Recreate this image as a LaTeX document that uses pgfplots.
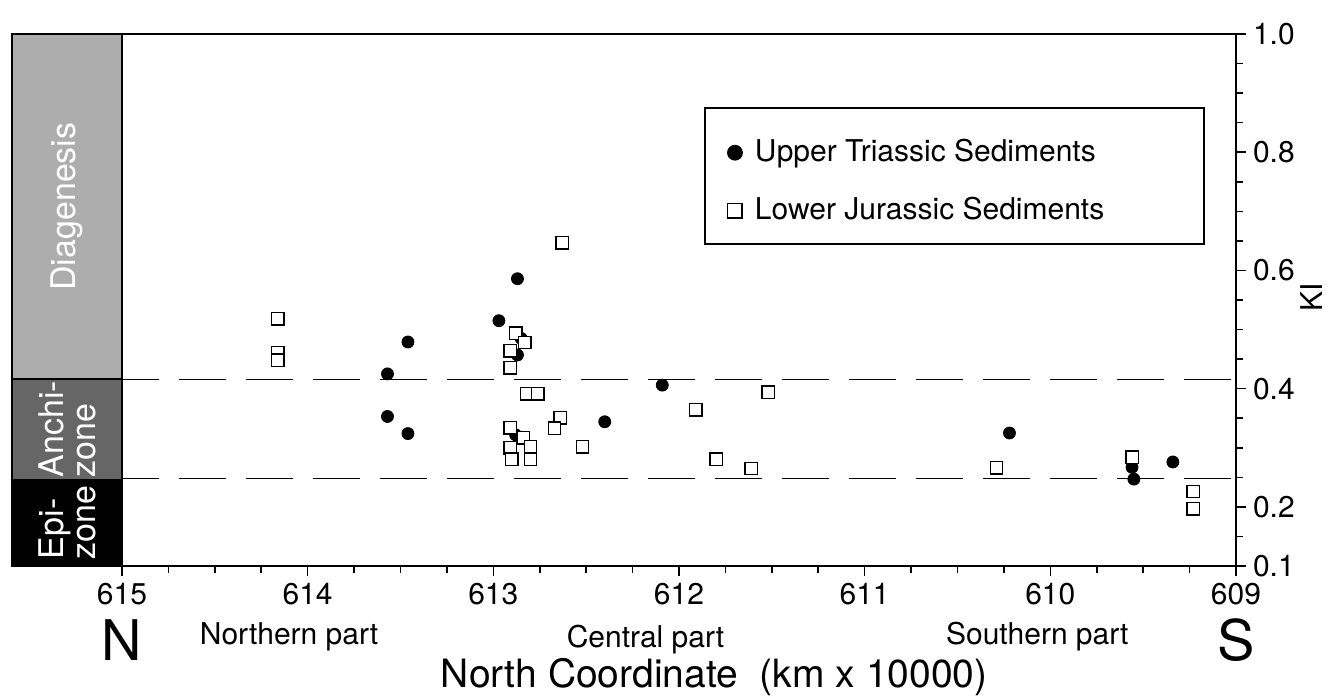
\documentclass[border=0pt]{standalone}
\usepackage{pgfplots}
\pgfplotsset{compat=1.18}
\usepackage{fontspec}
\setmainfont{TeX Gyre Heros}

\newcommand{\fs}[1]{\fontsize{#1}{1.1\dimexpr #1pt\relax}\selectfont}

% Kubler index, Upper Triassic
\pgfplotstableread{
x y
613.46 0.479
613.57 0.425
613.57 0.353
613.46 0.324
612.87 0.586
612.97 0.515
612.85 0.485
612.87 0.457
612.88 0.322
612.86 0.316
612.40 0.344
612.09 0.406
610.22 0.325
609.56 0.267
609.55 0.247
609.34 0.276
}\triassic
% Lower Jurassic
\pgfplotstableread{
x y
614.16 0.518
614.16 0.461
614.16 0.448
612.63 0.647
612.88 0.494
612.83 0.478
612.91 0.464
612.91 0.435
612.82 0.391
612.76 0.391
612.64 0.351
612.67 0.333
612.91 0.334
612.84 0.317
612.91 0.300
612.80 0.302
612.90 0.281
612.80 0.281
612.52 0.302
611.91 0.364
611.52 0.394
611.80 0.281
611.61 0.265
610.29 0.266
609.23 0.226
609.23 0.197
}\jurassic
\pgfplotstableread{
x y
609.56 0.284
}\jurassictop

\begin{document}
\begin{tikzpicture}
\begin{axis}[
  at={(0,0)}, anchor=south west,
  scale only axis, width=557pt, height=266pt,
  x dir=reverse,
  xmin=609, xmax=615, ymin=0.1, ymax=1.0,
  xtick={609,610,...,615}, minor x tick num=3,
  ytick={0.1,0.2,0.4,0.6,0.8,1.0},
  minor ytick={0.15,0.25,0.3,0.35,0.45,0.5,0.55,0.65,0.7,0.75,0.85,0.9,0.95},
  xtick pos=left, ytick pos=right, yticklabel pos=right,
  tick align=outside,
  major tick length=5pt, minor tick length=3.5pt,
  every tick/.style={black, line width=0.8pt},
  axis line style={line width=0.8pt},
  /pgf/number format/assume math mode=true,
  ticklabel style={font=\fs{15}},
  yticklabel style={/pgf/number format/.cd, fixed, fixed zerofill, precision=1},
  xticklabel style={/pgf/number format/.cd, 1000 sep={}},
  clip=false,
  legend style={at={(axis cs:611.866,0.8765)}, anchor=north west,
    draw=black, line width=1.1pt, inner xsep=6.5pt, inner ysep=10.4pt,
    row sep=11pt, column sep=1.5pt, font=\fs{15},
    nodes={inner sep=0pt}},
  legend cell align=left,
  legend image code/.code={
    \path[draw=none] (0pt,-4pt) rectangle (17pt,4pt);
    \draw[#1, line width=0.7pt, mark size=3.6pt] plot coordinates {(8.5pt,-2.9pt)};}
]
% zone boxes left of the axis
\fill[black!32] (axis cs:615.592,1.0) rectangle (axis cs:615,0.416);
\fill[black!60] (axis cs:615.592,0.416) rectangle (axis cs:615,0.248);
\fill[black] (axis cs:615.592,0.248) rectangle (axis cs:615,0.1);
\draw[line width=0.8pt] (axis cs:615.592,1.0) rectangle (axis cs:615,0.1);
\draw[line width=0.8pt] (axis cs:615.592,0.416) -- (axis cs:615,0.416);
\node[rotate=90, text=white, font=\fontsize{17}{16}\selectfont] at (axis cs:615.296,0.708) {Diagenesis};
\node[rotate=90, text=white, font=\fontsize{17}{16}\selectfont, align=left] at (axis cs:615.296,0.332) {Anchi-\\zone};
\node[rotate=90, text=white, font=\fontsize{17}{16}\selectfont, align=left] at (axis cs:615.296,0.174) {Epi-\\zone};

\addplot[black, line width=0.7pt, dash pattern=on 23.5pt off 10pt, dash phase=5pt, forget plot]
  coordinates {(615,0.416) (609,0.416)};
\addplot[black, line width=0.7pt, dash pattern=on 23.5pt off 10pt, dash phase=5pt, forget plot]
  coordinates {(615,0.248) (609,0.248)};

\addplot[only marks, mark=*, mark size=3pt, black, mark options={fill=black}]
  table[x=x, y=y] {\triassic};
\addlegendentry{\rule{0pt}{16.5pt}\makebox[218pt][l]{Upper Triassic Sediments}}
\addplot[only marks, mark=square*, mark size=3.1pt, black, mark options={fill=white, line width=0.7pt}]
  table[x=x, y=y] {\jurassic};
\addlegendentry{\rule{0pt}{16.5pt}\makebox[218pt][l]{Lower Jurassic Sediments}}
\addplot[only marks, mark=square*, mark size=3.1pt, black, mark options={fill=white, line width=0.7pt}, forget plot]
  table[x=x, y=y] {\jurassictop};

% labels under the x axis
\node[font=\fs{28}] at (axis cs:615,0.1) [yshift=-37pt] {N};
\node[font=\fs{28}] at (axis cs:609,0.1) [yshift=-37pt] {S};
\node[font=\fs{15}] at (axis cs:614.10,0.1) [yshift=-35.5pt] {Northern part};
\node[font=\fs{15}] at (axis cs:612.18,0.1) [yshift=-37pt] {Central part};
\node[font=\fs{15}] at (axis cs:610.07,0.1) [yshift=-35.5pt] {Southern part};
\node[font=\fs{19.5}] at (axis cs:611.81,0.1) [yshift=-55.5pt] {North Coordinate\ \ (km x 10000)};
\node[font=\fs{15}, rotate=90] at ([xshift=38pt]axis cs:609,0.555) {KI};
\end{axis}
\pgfresetboundingbox
\path[use as bounding box] (-61pt,-65.5pt) rectangle (603pt,283pt);
\end{tikzpicture}
\end{document}
